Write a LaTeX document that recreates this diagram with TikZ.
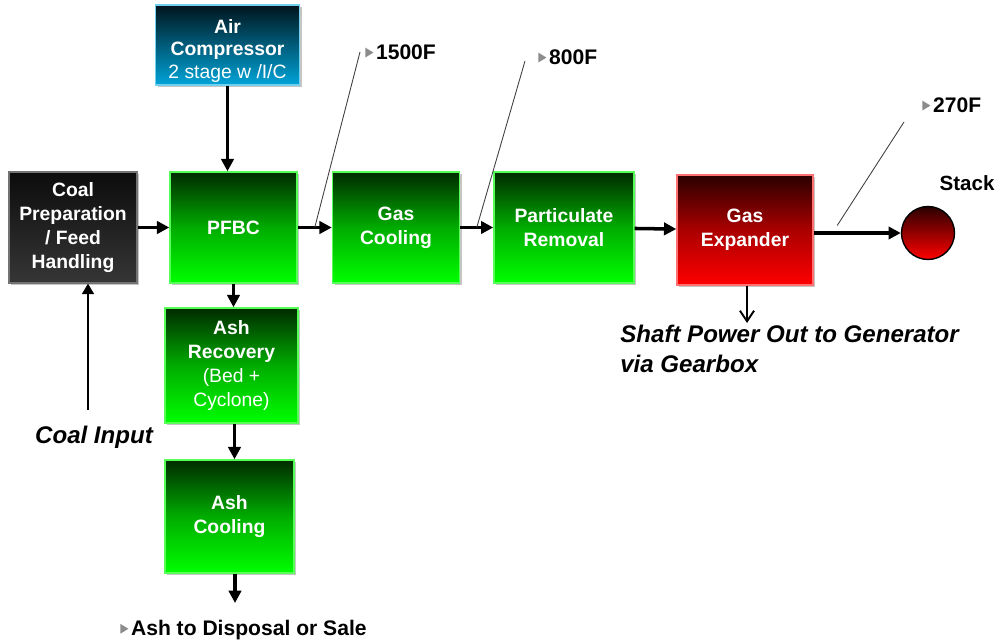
\documentclass[tikz,border=0pt]{standalone}
\usepackage{fontspec}
\setmainfont{Liberation Sans}
\usetikzlibrary{arrows.meta,positioning,calc,shadows}

\definecolor{grntop}{HTML}{002A00}
\definecolor{grnmid}{HTML}{00AC00}
\definecolor{grnbot}{HTML}{00FF00}
\definecolor{grnedge}{HTML}{55FF55}
\definecolor{redtop}{HTML}{2A0000}
\definecolor{redmid}{HTML}{AA0000}
\definecolor{redbot}{HTML}{FF0000}
\definecolor{rededge}{HTML}{FF7070}
\definecolor{bluetop}{HTML}{00141C}
\definecolor{bluebot}{HTML}{00A4D8}
\definecolor{blueedge}{HTML}{70D0F0}
\definecolor{coaltop}{HTML}{0C0C0C}
\definecolor{coalbot}{HTML}{363636}

\newcommand{\bultri}{\tikz[baseline=0pt]\fill[black!45] (0,1pt) -- (0,6.6pt) -- (4.6pt,3.8pt) -- cycle;\hspace{1.5pt}}

\begin{document}
\begin{tikzpicture}[
    unitbox/.style={rectangle, line width=0.8pt, text=white, align=center,
        font=\fontsize{11}{13.7}\selectfont\bfseries,
        drop shadow={shadow xshift=1.2pt, shadow yshift=-1.2pt, fill=black!45}},
    greenbox/.style={unitbox, draw=grnedge, top color=grntop, bottom color=grnbot, middle color=grnmid},
    redbox/.style={unitbox, draw=rededge, top color=redtop, bottom color=redbot, middle color=redmid},
    bluebox/.style={unitbox, draw=blueedge, top color=bluetop, bottom color=bluebot},
    coalbox/.style={unitbox, draw=black!55, top color=coaltop, bottom color=coalbot},
    flow/.style={line width=2pt, -{Triangle[length=7pt,width=7pt]}},
    feed/.style={line width=0.8pt, -{Triangle[length=6pt,width=7pt]}},
    power/.style={line width=1.1pt, -{Straight Barb[length=6pt,width=8pt]}},
    leader/.style={line width=0.5pt, black!75},
    tempnote/.style={font=\fontsize{12}{14}\selectfont\bfseries, inner sep=0pt, anchor=west},
    note/.style={font=\fontsize{13.7}{17}\selectfont\bfseries\itshape, inner sep=0pt}
]
\useasboundingbox (0,0) rectangle (20,-12.88);

% Main units
\node[bluebox, minimum width=2.88cm, minimum height=1.6cm, inner ysep=0pt,
    font=\fontsize{11}{12.8}\selectfont\bfseries] (air) at (4.55,-0.9)
    {\rule{0pt}{14.3pt}Air\\Compressor\\{\mdseries 2 stage w /I/C}};
\node[coalbox, minimum width=2.56cm, minimum height=2.22cm] (coal) at (1.46,-4.55)
    {Coal\\Preparation\\/ Feed\\Handling};
\node[greenbox, minimum width=2.54cm, minimum height=2.22cm] (pfbc) at (4.67,-4.55) {PFBC};
\node[greenbox, minimum width=2.54cm, minimum height=2.22cm] (gascool) at (7.92,-4.55) {Gas\\Cooling};
\node[greenbox, minimum width=2.8cm, minimum height=2.22cm] (partic) at (11.28,-4.55) {Particulate\\Removal};
\node[redbox, minimum width=2.72cm, minimum height=2.2cm] (gasexp) at (14.9,-4.6) {Gas\\Expander};
\node[circle, draw=black, line width=0.8pt, top color=redtop, bottom color=redbot,
    minimum size=1.06cm, inner sep=0pt] (stack) at (18.56,-4.66) {};
\node[font=\fontsize{11.7}{14}\selectfont\bfseries] (stacklbl) at (19.34,-3.66) {Stack};

% Ash train
\node[greenbox, minimum width=2.66cm, minimum height=2.3cm] (ashrec) at (4.63,-7.31)
    {Ash\\Recovery\\{\mdseries (Bed +}\\{\mdseries Cyclone)}};
\node[greenbox, minimum width=2.58cm, minimum height=2.26cm] (ashcool) at (4.59,-10.33) {Ash\\Cooling};

% Flow arrows
\draw[flow] (air.south) -- (air.south |- pfbc.north);
\draw[flow] (coal) -- (pfbc);
\draw[flow] (pfbc) -- (gascool);
\draw[flow] (gascool) -- (partic);
\draw[flow] (partic) -- (gasexp);
\draw[flow] (gasexp.east |- stack.west) -- (stack.west);
\draw[flow] (pfbc.south) -- (pfbc.south |- ashrec.north);
\draw[flow] ([xshift=0.06cm]ashrec.south) -- ([xshift=0.06cm]ashrec.south |- ashcool.north);
\coordinate (ashout) at (4.7,-12.06);
\draw[flow] (ashcool.south -| ashout) -- (ashout);
\node[tempnote] (ashlbl) at (2.4,-12.6) {\bultri Ash to Disposal or Sale};

% Coal input
\node[note] (coalin) at (1.88,-8.74) {Coal Input};
\coordinate (coalsrc) at (1.76,-8.2);
\draw[feed] (coalsrc) -- (coalsrc |- coal.south);

% Shaft power
\coordinate (shaft) at (14.94,-6.46);
\draw[power] (gasexp.south -| shaft) -- (shaft);
\node[note, anchor=north west, align=left] (shaftlbl) at (12.4,-6.5)
    {Shaft Power Out to Generator\\via Gearbox};

% Temperatures
\node[tempnote] (t1500) at (7.3,-1.04) {\bultri 1500F};
\node[tempnote] (t800) at (10.76,-1.14) {\bultri 800F};
\node[tempnote] (t270) at (18.44,-2.1) {\bultri 270F};
\coordinate (l1500) at (7.2,-1.04);
\coordinate (l800) at (10.5,-1.22);
\coordinate (l270) at (18.08,-2.44);
\draw[leader] (l1500) -- ($(pfbc.east)!0.5!(gascool.west)$);
\draw[leader] (l800) -- ($(gascool.east)!0.5!(partic.west)$);
\draw[leader] (l270) -- ($(gasexp.east |- stack.west)!0.27!(stack.west) + (0,0.15)$);

\end{tikzpicture}
\end{document}
